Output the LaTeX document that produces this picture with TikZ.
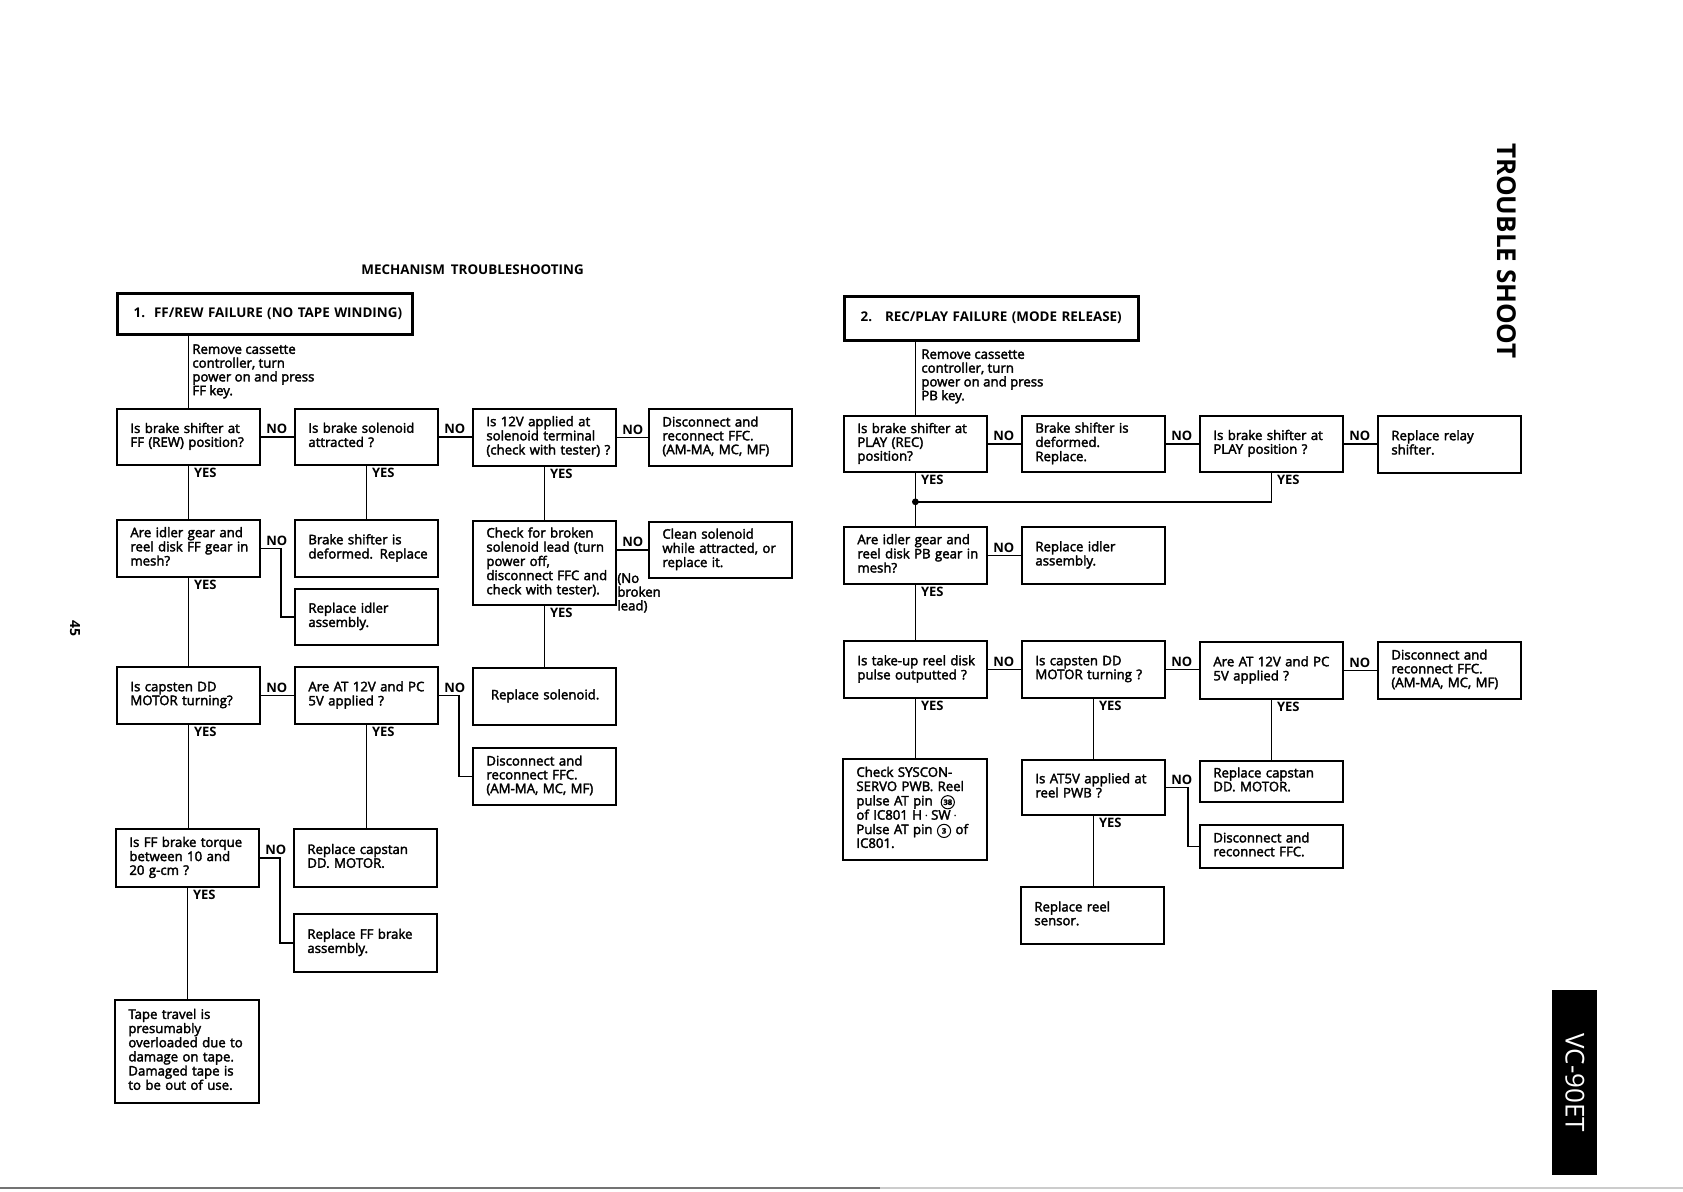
\documentclass[tikz,border=0pt]{standalone}
\usepackage{fontspec}
\setmainfont{Open Sans}
\newfontfamily\bodyfam[FakeBold=2.5]{Open Sans}
\newcommand\bodyf{\bodyfam\fontsize{6.6}{6.9}\selectfont}
\newcommand\labf{\fontsize{6.5}{7}\selectfont\bfseries}
\newcommand\ttlf{\fontsize{6.7}{8}\selectfont\bfseries}
\newcommand\lns[1]{\begin{tabular}{@{}l@{}}#1\end{tabular}}
\newcommand\circnum[1]{\tikz[baseline=-0.45ex]\node[draw, circle, line width=0.5pt, inner sep=0pt, minimum size=6.6pt, text width={}, align=center, anchor=center, font=\fontsize{3.8}{4}\selectfont\bfseries] {#1};}
\begin{document}
\begin{tikzpicture}[x=0.5pt,y=-0.5pt,
  box/.style={draw, line width=0.9pt, anchor=north west, text width=58pt, inner xsep=6.75pt, inner ysep=1pt, align=left, font=\bodyf},
  ttl/.style={draw, line width=1.6pt, anchor=north west, text width=131.5pt, inner xsep=8pt, inner ysep=1pt, align=left, font=\ttlf},
  conn/.style={line width=0.8pt},
  lab/.style={font=\labf, inner sep=0.6pt},
  yes/.style={lab, anchor=north west, xshift=2pt, yshift=-0.3pt},
  no/.style={lab, anchor=south west, xshift=2pt, yshift=0.6pt},
  free/.style={anchor=north west, align=left, inner sep=0pt, font=\bodyf}]
\useasboundingbox (0,0) rectangle (1683,1191);

% ---------- headings ----------
\node[font=\ttlf, anchor=west, inner sep=0pt] (head) at (361,270) {MECHANISM\hspace{3pt}TROUBLESHOOTING};
\node[font=\fontsize{13}{15}\selectfont\bfseries, rotate=-90, inner sep=0pt] (side) at (1507,251) {TROUBLE SHOOT};
\node[fill=black, minimum width=22.5pt, minimum height=92.5pt, inner sep=0pt, anchor=north west] (mbox) at (1552,990) {};
\node[text=white, font=\fontsize{13}{15}\selectfont, rotate=-90, inner sep=0pt] (model) at (mbox.center) {VC-90ET};
\node[font=\fontsize{7}{8}\selectfont\bfseries, rotate=-90, inner sep=0pt] (page) at (75,628) {45};

% ---------- 1. FF/REW ----------
\node[ttl, minimum height=20.5pt] (T1) at (116,292) {\lns{1.\hspace{4.5pt}FF/REW FAILURE (NO TAPE WINDING)}};
\node[free] (N1) at (192,344) {Remove cassette\\controller, turn\\power on and press\\FF key.};
\node[box, minimum height=28pt] (A1) at (116,408) {\lns{Is brake shifter at\\FF (REW) position?}};
\node[box, minimum height=28pt] (A2) at (294,408) {\lns{Is brake solenoid\\attracted ?}};
\node[box, minimum height=28.5pt] (A3) at (472,408) {\lns{Is 12V applied at\\solenoid terminal\\(check with tester) ?}};
\node[box, minimum height=28.5pt] (A4) at (648,408) {\lns{Disconnect and\\reconnect FFC.\\(AM-MA, MC, MF)}};
\node[box, minimum height=28.5pt] (B1) at (116,519) {\lns{Are idler gear and\\reel disk FF gear in\\mesh?}};
\node[box, minimum height=28.5pt] (B2) at (294,519) {\lns{Brake shifter is\\deformed. Replace}};
\node[box, minimum height=28pt] (B2b) at (294,588) {\lns{Replace idler\\assembly.}};
\node[box, minimum height=42pt] (B3) at (472,520) {\lns{Check for broken\\solenoid lead (turn\\power off,\\disconnect FFC and\\check with tester).}};
\node[box, minimum height=28pt] (B4) at (648,521) {\lns{Clean solenoid\\while attracted, or\\replace it.}};
\node[box, minimum height=28.5pt] (C1) at (116,666) {\lns{Is capsten DD\\MOTOR turning?}};
\node[box, minimum height=28.5pt] (C2) at (294,666) {\lns{Are AT 12V and PC\\5V applied ?}};
\node[box, minimum height=28.5pt, inner xsep=9pt, text width=53.5pt] (C3) at (472,667) {\lns{Replace solenoid.}};
\node[box, minimum height=28.5pt] (C3b) at (472,747) {\lns{Disconnect and\\reconnect FFC.\\(AM-MA, MC, MF)}};
\node[box, minimum height=29pt] (D1) at (115,828) {\lns{Is FF brake torque\\between 10 and\\20 g-cm ?}};
\node[box, minimum height=29pt] (D2) at (293,828) {\lns{Replace capstan\\DD. MOTOR.}};
\node[box, minimum height=29pt] (D2b) at (293,913) {\lns{Replace FF brake\\assembly.}};
\node[box, minimum height=51.5pt, text width=58.5pt] (E1) at (114,999) {\lns{Tape travel is\\presumably\\overloaded due to\\damage on tape.\\Damaged tape is\\to be out of use.}};

\draw[conn] (A1.north |- T1.south) -- (A1.north);
\draw[conn] (A1.east) -- (A1.east -| A2.west);
\draw[conn] (A2.east) -- (A2.east -| A3.west);
\draw[conn] (A3.east) -- (A3.east -| A4.west);
\draw[conn] (A1.south) -- (A1.south |- B1.north);
\draw[conn] (A2.south) -- (A2.south |- B2.north);
\draw[conn] (A3.south) -- (A3.south |- B3.north);
\draw[conn] (B1.east) -- ++(20,0) |- (B2b.west);
\draw[conn] (B3.east |- B4.west) -- (B4.west);
\draw[conn] (B1.south) -- (B1.south |- C1.north);
\draw[conn] (B3.south) -- (B3.south |- C3.north);
\draw[conn] (C1.east) -- (C1.east -| C2.west);
\draw[conn] (C2.east) -- ++(20,0) |- (C3b.west);
\draw[conn] (C1.south) -- (C1.south |- D1.north);
\draw[conn] (C2.south) -- (C2.south |- D2.north);
\draw[conn] (D1.east) -- ++(20,0) |- (D2b.west);
\draw[conn] (D1.south) -- (D1.south |- E1.north);

\node[no] at (A1.east) {NO};
\node[no] at (A2.east) {NO};
\node[no] at (A3.east) {NO};
\node[no] at (B1.east) {NO};
\node[no] at (B3.east |- B4.west) {NO};
\node[anchor=north west, align=left, font=\bodyf, inner sep=0pt] (nbl) at (617,573) {(No\\broken\\lead)};
\node[no] at (C1.east) {NO};
\node[no] at (C2.east) {NO};
\node[no] at (D1.east) {NO};
\node[yes] at (A1.south) {YES};
\node[yes] at (A2.south) {YES};
\node[yes] at (A3.south) {YES};
\node[yes] at (B1.south) {YES};
\node[yes] at (B3.south) {YES};
\node[yes] at (C1.south) {YES};
\node[yes] at (C2.south) {YES};
\node[yes] at (D1.south) {YES};

% ---------- 2. REC/PLAY ----------
\node[ttl, minimum height=22pt, text width=131pt] (T2) at (843,295) {\lns{2.\hspace{6.5pt}REC/PLAY FAILURE (MODE RELEASE)}};
\node[free] (N2) at (921,349) {Remove cassette\\controller, turn\\power on and press\\PB key.};
\node[box, minimum height=28pt] (R1a) at (843,415) {\lns{Is brake shifter at\\PLAY (REC)\\position?}};
\node[box, minimum height=28pt] (R1b) at (1021,415) {\lns{Brake shifter is\\deformed.\\Replace.}};
\node[box, minimum height=28pt] (R1c) at (1199,415) {\lns{Is brake shifter at\\PLAY position ?}};
\node[box, minimum height=28.5pt] (R1d) at (1377,415) {\lns{Replace relay\\shifter.}};
\node[box, minimum height=28.5pt] (R2a) at (843,526) {\lns{Are idler gear and\\reel disk PB gear in\\mesh?}};
\node[box, minimum height=28.5pt] (R2b) at (1021,526) {\lns{Replace idler\\assembly.}};
\node[box, minimum height=28.5pt] (R3a) at (843,640) {\lns{Is take-up reel disk\\pulse outputted ?}};
\node[box, minimum height=28.5pt] (R3b) at (1021,640) {\lns{Is capsten DD\\MOTOR turning ?}};
\node[box, minimum height=28.5pt] (R3c) at (1199,641) {\lns{Are AT 12V and PC\\5V applied ?}};
\node[box, minimum height=28.5pt] (R3d) at (1377,641) {\lns{Disconnect and\\reconnect FFC.\\(AM-MA, MC, MF)}};
\node[box, minimum height=50.5pt, text width=58.5pt] (R4a) at (842,758) {\lns{Check SYSCON-\\SERVO PWB. Reel\\pulse AT pin\hspace{4pt}\circnum{38}\\of IC801 H\,$\cdot$\,SW\,$\cdot$\\Pulse AT pin \circnum{3} of\\IC801.}};
\node[box, minimum height=27.5pt] (R4b) at (1021,759) {\lns{Is AT5V applied at\\reel PWB ?}};
\node[box, minimum height=20.5pt] (R4c) at (1199,760) {\lns{Replace capstan\\DD. MOTOR.}};
\node[box, minimum height=21.5pt] (R4d) at (1199,824) {\lns{Disconnect and\\reconnect FFC.}};
\node[box, minimum height=28.5pt] (R5) at (1020,886) {\lns{Replace reel\\sensor.}};

\draw[conn] (R1a.north |- T2.south) -- (R1a.north);
\draw[conn] (R1a.east) -- (R1a.east -| R1b.west);
\draw[conn] (R1b.east) -- (R1b.east -| R1c.west);
\draw[conn] (R1c.east) -- (R1c.east -| R1d.west);
\path (R1a.south) ++(0,29) coordinate (J);
\draw[conn] (R1a.south) -- (R1a.south |- R2a.north);
\draw[conn] (R1c.south) -- (R1c.south |- J) -- (J);
\fill (J) circle (1.7pt);
\draw[conn] (R2a.east) -- (R2a.east -| R2b.west);
\draw[conn] (R2a.south) -- (R2a.south |- R3a.north);
\draw[conn] (R3a.east) -- (R3a.east -| R3b.west);
\draw[conn] (R3b.east) -- (R3b.east -| R3c.west);
\draw[conn] (R3c.east) -- (R3c.east -| R3d.west);
\draw[conn] (R3a.south) -- (R3a.south |- R4a.north);
\draw[conn] (R3b.south) -- (R3b.south |- R4b.north);
\draw[conn] (R3c.south) -- (R3c.south |- R4c.north);
\draw[conn] (R4b.east) -- ++(22,0) |- (R4d.west);
\draw[conn] (R4b.south) -- (R4b.south |- R5.north);

\node[no] at (R1a.east) {NO};
\node[no] at (R1b.east) {NO};
\node[no] at (R1c.east) {NO};
\node[no] at (R2a.east) {NO};
\node[no] at (R3a.east) {NO};
\node[no] at (R3b.east) {NO};
\node[no] at (R3c.east) {NO};
\node[no] at (R4b.east) {NO};
\node[yes] at (R1a.south) {YES};
\node[yes] at (R1c.south) {YES};
\node[yes] at (R2a.south) {YES};
\node[yes] at (R3a.south) {YES};
\node[yes] at (R3b.south) {YES};
\node[yes] at (R3c.south) {YES};
\node[yes] at (R4b.south) {YES};

% ---------- page edge ----------
\draw[line width=1.2pt, black!55] (0,1188) -- (880,1188);
\draw[line width=1pt, black!20] (880,1188) -- (1683,1188);
\end{tikzpicture}
\end{document}
